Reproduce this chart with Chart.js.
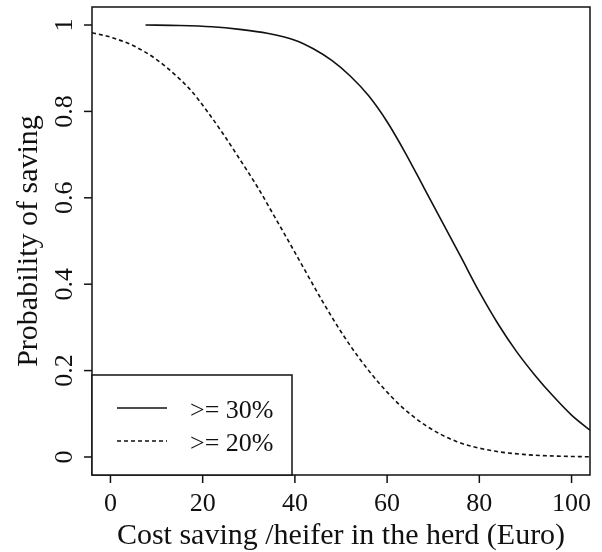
<!DOCTYPE html>
<html>
<head>
<meta charset="utf-8">
<script src="https://cdn.jsdelivr.net/npm/chart.js@4"></script>
<style>
  body { margin: 0; background: #fff; }
  canvas { display: block; }
</style>
</head>
<body>
<canvas id="chart" width="602" height="552"></canvas>
<script>
// curve: probability of saving >= 30%
const save30X = [7.6, 15, 22, 28, 34, 40, 44, 48, 52, 56, 60, 64, 68, 72, 76, 80, 84, 88, 92, 96, 100, 104];
const save30Y = [1.0, 0.999, 0.996, 0.99, 0.981, 0.965, 0.945, 0.918, 0.882, 0.836, 0.776, 0.703, 0.623, 0.543, 0.463, 0.382, 0.309, 0.245, 0.19, 0.141, 0.097, 0.062];

// probability of saving >= 20%
const save20X = [-4, 0, 5, 10, 14.5, 17.5, 21, 24.5, 28, 32, 35.5, 38.5, 42.5, 46, 50, 54, 58.5, 63, 68.5, 75, 82, 89.5, 97, 104];
const save20Y = [0.982, 0.972, 0.952, 0.92, 0.88, 0.848, 0.8, 0.747, 0.69, 0.623, 0.558, 0.502, 0.426, 0.36, 0.29, 0.228, 0.168, 0.118, 0.072, 0.036, 0.016, 0.006, 0.002, 0.0005];

const xTicks = [0, 20, 40, 60, 80, 100];
const yTicks = [0, 0.2, 0.4, 0.6, 0.8, 1];
const yTickLabels = ['0', '0.2', '0.4', '0.6', '0.8', '1'];
const legendLabels = ['>= 30%', '>= 20%'];

const xTitle = 'Cost saving /heifer in the herd (Euro)';
const yTitle = 'Probability of saving';

const INK = '#111';
const SERIF = '"Liberation Serif", "Times New Roman", serif';
const TICK_FONT = '26px ' + SERIF;
const TITLE_FONT = '30px ' + SERIF;

function toPoints(xs, ys) {
    return xs.map((x, i) => ({ x: x, y: ys[i] }));
}

// R style frame, ticks, labels and legend
const basePlot = {
    id: 'basePlot',
    afterDraw(chart) {
        const ctx = chart.ctx;
        const area = chart.chartArea;
        const xs = chart.scales.x;
        const ys = chart.scales.y;

        ctx.save();
        ctx.strokeStyle = INK;
        ctx.fillStyle = INK;
        ctx.lineWidth = 1.5;
        ctx.strokeRect(area.left, area.top, area.right - area.left, area.bottom - area.top);

        // x axis
        ctx.font = TICK_FONT;
        ctx.textAlign = 'center';
        ctx.textBaseline = 'alphabetic';
        xTicks.forEach(v => {
            const px = xs.getPixelForValue(v);
            ctx.beginPath();
            ctx.moveTo(px, area.bottom);
            ctx.lineTo(px, area.bottom + 8);
            ctx.stroke();
            ctx.fillText(String(v), px, 511);
        });

        // y axis, labels turned upright
        yTicks.forEach((v, i) => {
            const py = ys.getPixelForValue(v);
            ctx.beginPath();
            ctx.moveTo(area.left, py);
            ctx.lineTo(area.left - 8, py);
            ctx.stroke();
            ctx.save();
            ctx.translate(72, py);
            ctx.rotate(-Math.PI / 2);
            ctx.fillText(yTickLabels[i], 0, 0);
            ctx.restore();
        });

        ctx.font = TITLE_FONT;
        ctx.fillText(xTitle, (area.left + area.right) / 2, 544);
        ctx.save();
        ctx.translate(37, (area.top + area.bottom) / 2);
        ctx.rotate(-Math.PI / 2);
        ctx.fillText(yTitle, 0, 0);
        ctx.restore();

        // legend box in the lower left corner
        ctx.fillStyle = '#fff';
        ctx.fillRect(area.left, 375, 200, area.bottom - 375);
        ctx.strokeRect(area.left, 375, 200, area.bottom - 375);
        ctx.fillStyle = INK;
        ctx.font = TICK_FONT;
        const rows = [408, 441];
        chart.data.datasets.forEach((ds, i) => {
            ctx.beginPath();
            ctx.setLineDash(ds.borderDash || []);
            ctx.lineWidth = ds.borderWidth;
            ctx.moveTo(117, rows[i]);
            ctx.lineTo(167, rows[i]);
            ctx.stroke();
            ctx.setLineDash([]);
            ctx.textAlign = 'left';
            ctx.fillText(legendLabels[i], 190, rows[i] + 10);
        });
        ctx.restore();
    }
};

new Chart(document.getElementById('chart'), {
    type: 'line',
    data: {
        datasets: [{
            label: legendLabels[0],
            data: toPoints(save30X, save30Y),
            borderColor: INK,
            borderWidth: 1.6,
            pointRadius: 0,
            cubicInterpolationMode: 'monotone'
        }, {
            label: legendLabels[1],
            data: toPoints(save20X, save20Y),
            borderColor: INK,
            borderWidth: 1.6,
            borderDash: [4, 3],
            pointRadius: 0,
            cubicInterpolationMode: 'monotone'
        }]
    },
    options: {
        responsive: false,
        animation: false,
        layout: { padding: { left: 92, top: 7, right: 12, bottom: 77 } },
        plugins: { legend: { display: false }, tooltip: { enabled: false } },
        scales: {
            x: { type: 'linear', min: -4, max: 104, display: false },
            y: { type: 'linear', min: -0.0417, max: 1.0417, display: false }
        }
    },
    plugins: [basePlot]
});
</script>
</body>
</html>
